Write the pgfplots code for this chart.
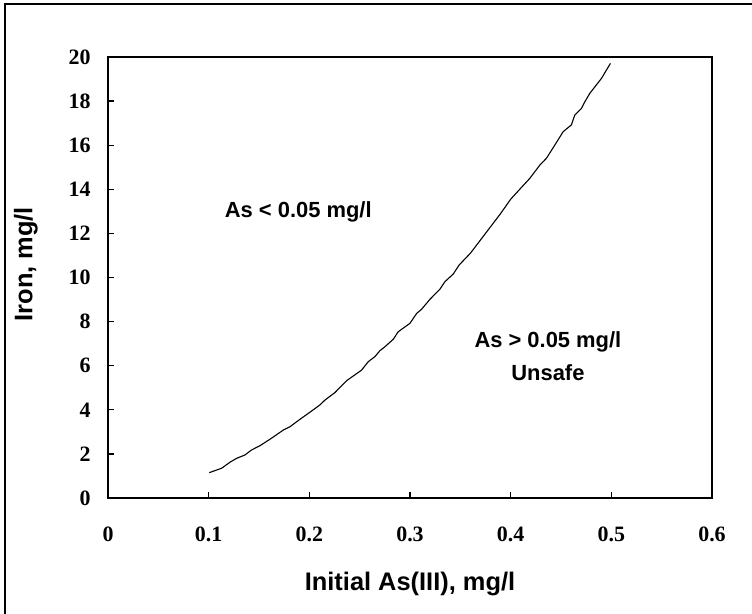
\documentclass[border=0pt]{standalone}
\usepackage{pgfplots}
\pgfplotsset{compat=1.18}
\usepackage{fontspec}
\setmainfont{Liberation Serif}
\newfontfamily\arial{Liberation Sans}
\begin{document}
\begin{tikzpicture}[x=1bp,y=1bp]
\useasboundingbox (-108bp,-116bp) rectangle (644bp,498bp);
\draw[line width=1.6bp] (-103bp,-130bp) -- (-103bp,494bp) -- (660bp,494bp);
\begin{axis}[
  at={(0,0)}, anchor=origin,
  scale only axis, width=604bp, height=441bp,
  xmin=0, xmax=0.6, ymin=0, ymax=20,
  axis line style={line width=1.4bp},
  tick style={line width=1.2bp, black},
  tick align=inside, major tick length=6bp,
  xtick pos=bottom, ytick pos=left,
  xtick={0,0.1,0.2,0.3,0.4,0.5,0.6},
  xticklabels={0,0.1,0.2,0.3,0.4,0.5,0.6},
  ytick={0,2,...,20},
  /pgf/number format/assume math mode=true,
  ticklabel style={font=\fontsize{22}{22}\selectfont\bfseries},
  xticklabel style={yshift=-25bp},
  yticklabel style={xshift=-14bp},
  xlabel={Initial As(III), mg/l},
  ylabel={Iron, mg/l},
  label style={font=\arial\fontsize{25.5}{25.5}\selectfont\bfseries},
  xlabel style={at={(axis description cs:0.5,0)}, anchor=center, yshift=-86bp},
  ylabel style={at={(axis description cs:-0.136,0.53)}, anchor=center},
  clip=false,
]
\addplot[black, line width=1.1bp] coordinates {
(0.1006,1.15) (0.1129,1.35) (0.1211,1.62) (0.1278,1.80) (0.1360,1.95)
(0.1427,2.18) (0.1509,2.37) (0.1624,2.71) (0.1741,3.08) (0.1807,3.23)
(0.1907,3.57) (0.2006,3.89) (0.2105,4.22) (0.2155,4.44) (0.2254,4.78)
(0.2370,5.32) (0.2519,5.80) (0.2585,6.18) (0.2651,6.41) (0.2701,6.68)
(0.2751,6.86) (0.2834,7.20) (0.2883,7.54) (0.2999,7.92) (0.3066,8.37)
(0.3115,8.56) (0.3198,9.01) (0.3297,9.47) (0.3347,9.81) (0.3430,10.16)
(0.3489,10.57) (0.3600,11.10) (0.3700,11.70) (0.3800,12.30) (0.3900,12.90)
(0.4000,13.55) (0.4100,14.05) (0.4191,14.50) (0.4290,15.10) (0.4356,15.41)
(0.4439,16.01) (0.4521,16.61) (0.4603,16.92) (0.4637,17.37) (0.4703,17.67)
(0.4737,17.97) (0.4786,18.35) (0.4902,19.03) (0.4991,19.71)
};
\node[font=\arial\fontsize{22}{22}\selectfont\bfseries] at (axis cs:0.189,12.97) {As < 0.05 mg/l};
\node[font=\arial\fontsize{22}{22}\selectfont\bfseries] at (axis cs:0.437,7.07) {As > 0.05 mg/l};
\node[font=\arial\fontsize{22}{22}\selectfont\bfseries] at (axis cs:0.437,5.67) {Unsafe};
\end{axis}
\end{tikzpicture}
\end{document}
